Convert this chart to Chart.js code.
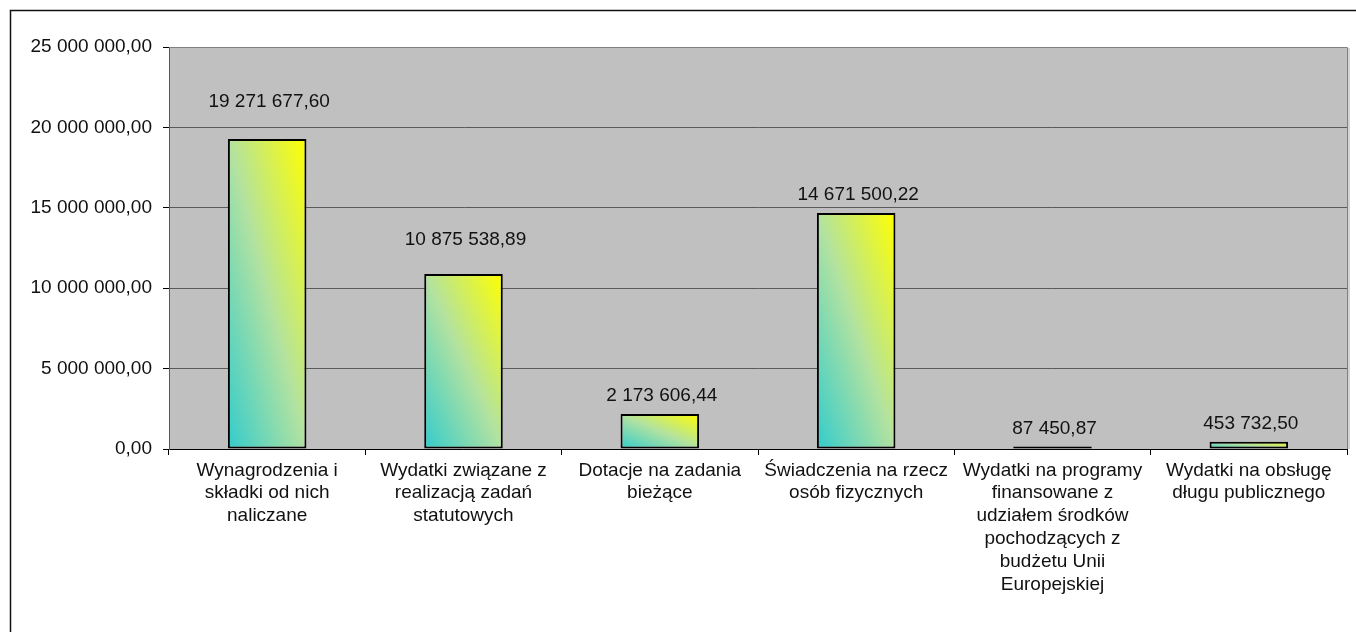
<!DOCTYPE html>
<html>
<head>
<meta charset="utf-8">
<script src="https://cdn.jsdelivr.net/npm/chart.js@4"></script>
<style>
    html, body { margin: 0; padding: 0; background: #fff; }
    #wrap { width: 1356px; height: 632px; }
</style>
</head>
<body>
<div id="wrap"><canvas id="my-Wydatki-Chart"></canvas></div>
<script>
// dane z wykresu
const categories = [
    ['Wynagrodzenia i', 'składki od nich', 'naliczane'],
    ['Wydatki związane z', 'realizacją zadań', 'statutowych'],
    ['Dotacje na zadania', 'bieżące'],
    ['Świadczenia na rzecz', 'osób fizycznych'],
    ['Wydatki na programy', 'finansowane z', 'udziałem środków', 'pochodzących z', 'budżetu Unii', 'Europejskiej'],
    ['Wydatki na obsługę', 'długu publicznego']
];
const values = [19271677.60, 10875538.89, 2173606.44, 14671500.22, 87450.87, 453732.50];
const yTicks = [0, 5000000, 10000000, 15000000, 20000000, 25000000];

// odstęp etykiety wartości nad słupkiem (px)
const labelLift = [37, 34, 18, 18, 18, 18];

const FONT = "'Liberation Sans', Arial, sans-serif";

// format: 19 271 677,60
function formatPL(v) {
    const parts = v.toFixed(2).split('.');
    const intPart = parts[0].replace(/\B(?=(\d{3})+(?!\d))/g, ' ');
    return intPart + ',' + parts[1];
}

// tło obszaru wykresu + ramka
const plotArea = {
    id: 'plotArea',
    beforeDraw(chart) {
        const { ctx, chartArea: a } = chart;
        ctx.save();
        ctx.strokeStyle = '#111';
        ctx.lineWidth = 1.5;
        ctx.strokeRect(10.5, 10.5, chart.width + 20, chart.height + 20);
        ctx.fillStyle = '#c0c0c0';
        ctx.fillRect(a.left, a.top, a.right - a.left, a.bottom - a.top);
        ctx.restore();
    },
    afterDraw(chart) {
        const { ctx, chartArea: a } = chart;
        ctx.save();
        ctx.strokeStyle = '#808080';
        ctx.lineWidth = 1;
        ctx.beginPath();
        ctx.moveTo(a.left, a.top + 0.5);
        ctx.lineTo(a.right + 0.5, a.top + 0.5);
        ctx.lineTo(a.right + 0.5, a.bottom);
        ctx.stroke();
        ctx.strokeStyle = '#a8a8a8';
        ctx.beginPath();
        ctx.moveTo(a.right + 2, a.top + 1);
        ctx.lineTo(a.right + 2, a.bottom);
        ctx.stroke();
        ctx.restore();
    }
};

// gradient po przekątnej: turkus (lewy dół) -> żółty (prawy góra)
const barGradient = {
    id: 'barGradient',
    beforeDatasetsDraw(chart) {
        const ctx = chart.ctx;
        chart.getDatasetMeta(0).data.forEach(el => {
            const left = el.x - el.width / 2;
            const right = el.x + el.width / 2;
            const top = Math.min(el.y, el.base);
            const bottom = Math.max(el.y, el.base);
            const w = right - left;
            const h = bottom - top;
            if (h < 4) {
                // za niski słupek -> sama ramka (czarna kreska)
                el.options = Object.assign({}, el.options, { backgroundColor: '#000' });
                return;
            }
            const cx = (left + right) / 2;
            const cy = (top + bottom) / 2;
            const k = (w * h) / (w * w + h * h);
            const g = ctx.createLinearGradient(cx - k * h, cy + k * w, cx + k * h, cy - k * w);
            g.addColorStop(0, '#33cccc');
            g.addColorStop(0.5, '#b2e2a0');
            g.addColorStop(1, '#ffff00');
            el.options = Object.assign({}, el.options, { backgroundColor: g });
        });
    }
};

// etykiety wartości nad słupkami
const valueLabels = {
    id: 'valueLabels',
    afterDatasetsDraw(chart) {
        const ctx = chart.ctx;
        ctx.save();
        ctx.font = '19px ' + FONT;
        ctx.fillStyle = '#111';
        ctx.textAlign = 'center';
        ctx.textBaseline = 'middle';
        chart.getDatasetMeta(0).data.forEach((el, i) => {
            ctx.fillText(formatPL(values[i]), el.x + 2, Math.min(el.y, el.base) - labelLift[i]);
        });
        ctx.restore();
    }
};

function createWydatkiChart() {
    const ctx = document.getElementById('my-Wydatki-Chart').getContext('2d');
    new Chart(ctx, {
        type: 'bar',
        data: {
            labels: categories,
            datasets: [{
                data: values,
                backgroundColor: '#99e699',
                borderColor: '#000',
                borderWidth: 2,
                borderSkipped: false,
                minBarLength: 2.5,
                categoryPercentage: 1.0,
                barPercentage: 0.4
            }]
        },
        options: {
            responsive: true,
            maintainAspectRatio: false,
            animation: false,
            layout: {
                padding: { top: 47, right: 9, bottom: 0, left: 0 }
            },
            plugins: {
                legend: { display: false },
                tooltip: { enabled: false }
            },
            scales: {
                x: {
                    grid: {
                        display: true,
                        drawOnChartArea: false,
                        tickLength: 6,
                        tickColor: '#000'
                    },
                    border: { color: '#000', width: 1 },
                    ticks: {
                        color: '#111',
                        font: { family: FONT, size: 19, lineHeight: 1.2 },
                        padding: 4,
                        maxRotation: 0,
                        autoSkip: false
                    },
                    afterFit(scale) { scale.height = 183; }
                },
                y: {
                    min: 0,
                    max: 25000000,
                    afterBuildTicks(scale) {
                        scale.ticks = yTicks.map(v => ({ value: v }));
                    },
                    grid: {
                        color: '#5a5a5a',
                        lineWidth: 1,
                        tickLength: 6,
                        tickColor: '#000'
                    },
                    border: { color: '#5a5a5a', width: 1 },
                    ticks: {
                        color: '#111',
                        font: { family: FONT, size: 19 },
                        padding: 11,
                        callback: v => formatPL(v)
                    },
                    afterFit(scale) { scale.width = 169; }
                }
            }
        },
        plugins: [plotArea, barGradient, valueLabels]
    });
}

createWydatkiChart()
</script>
</body>
</html>
